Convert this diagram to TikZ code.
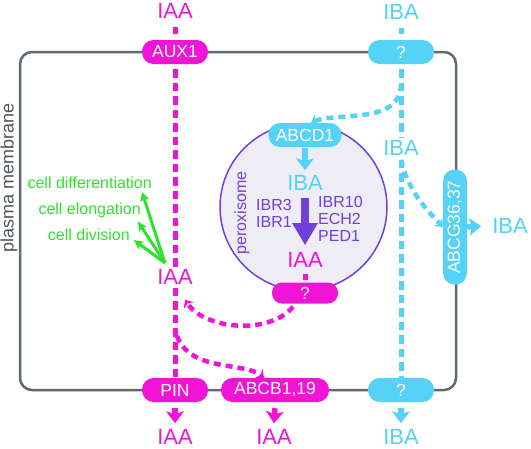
\documentclass[tikz,border=0pt]{standalone}
\usepackage{fontspec}
\setmainfont{Liberation Sans}
\usetikzlibrary{arrows.meta}

\definecolor{iaacol}{RGB}{240,20,215}
\definecolor{ibacol}{RGB}{85,210,245}
\definecolor{peroxcol}{RGB}{112,64,216}
\definecolor{peroxfill}{RGB}{238,237,245}
\definecolor{grncol}{RGB}{45,225,45}
\definecolor{membcol}{RGB}{96,106,112}

\tikzset{
  pill/.style={rounded corners=11.5pt,minimum height=24pt,minimum width=66pt,inner sep=2pt,
    text=white,font=\fontsize{17.5}{18}\selectfont},
  iaapill/.style={pill,fill=iaacol},
  ibapill/.style={pill,fill=ibacol},
  big/.style={inner sep=0pt,font=\fontsize{22}{22}\selectfont},
  small/.style={inner sep=0pt,font=\fontsize{16}{17}\selectfont},
  iaaflow/.style={iaacol,line width=5pt,dash pattern=on 8.5pt off 5pt},
  ibaflow/.style={ibacol,line width=5pt,dash pattern=on 8.5pt off 5pt},
  bendtip/.style={line width=4.5pt,dash pattern=on 7pt off 5pt,-{Stealth[length=7pt,width=12pt,inset=2.5pt]}},
  chev/.style={line width=5.5pt,-{Stealth[length=12pt,width=18pt,inset=3pt,line width=1pt]}},
  spur/.style={grncol,line width=3pt,-{Stealth[length=9pt,width=9pt,inset=2pt]}}
}

\begin{document}
\begin{tikzpicture}[x=1pt,y=-1pt]
  \useasboundingbox (0,0) rectangle (531,448);
  % cell
  \draw[membcol,line width=2.5pt,rounded corners=12pt] (20,52) rectangle (456,390);
  \node[inner sep=0pt,rotate=90,text=membcol!80!black,font=\fontsize{18}{18}\selectfont] (pm) at (9,178) {plasma membrane};
  % peroxisome
  \node[circle,draw=peroxcol,line width=1.5pt,fill=peroxfill,minimum size=167pt] (perox) at (303.5,207) {};
  \node[small,rotate=90,text=peroxcol] (peroxLabel) at (242,213) {peroxisome};

  % transporters
  \node[iaapill] (aux) at (175,52) {AUX1};
  \node[ibapill] (qTop) at (401,52) {?};
  \node[iaapill] (pin) at (175,390) {PIN};
  \node[iaapill,minimum width=108pt] (abcb) at (275,390) {ABCB1,19};
  \node[ibapill] (qBot) at (401,390) {?};
  \node[ibapill,minimum width=115pt,rotate=90] (abcg) at (455,227) {ABCG36,37};
  \node[ibapill,minimum width=73pt] (abcd) at (305,135) {ABCD1};
  \node[iaapill,minimum height=21pt,rounded corners=10pt] (qPer) at (305,293) {?};

  % auxins
  \node[big,text=iaacol] (iaaTop) at (175,11) {IAA};
  \node[big,text=ibacol] (ibaTop) at (401,12) {IBA};
  \node[big,text=iaacol] (iaaMid) at (175,277) {IAA};
  \node[big,text=ibacol] (ibaMid) at (401,148) {IBA};
  \node[big,text=iaacol] (iaaPin) at (175,437) {IAA};
  \node[big,text=iaacol] (iaaAbcb) at (274,437) {IAA};
  \node[big,text=ibacol] (ibaBot) at (401,437) {IBA};
  \node[big,text=ibacol] (ibaRight) at (510,226) {IBA};
  \node[big,text=ibacol] (ibaPer) at (305,183) {IBA};
  \node[big,text=iaacol] (iaaPer) at (305,260) {IAA};
  \node[small,text=peroxcol,align=right,anchor=east] (ibrLeft) at (292,213) {IBR3\\IBR1};
  \node[small,text=peroxcol,align=left,anchor=west] (ibrRight) at (318,218.5) {IBR10\\ECH2\\PED1};

  % responses
  \node[small,text=grncol,anchor=east] (diff) at (152,183) {cell differentiation};
  \node[small,text=grncol,anchor=east] (elong) at (141,210) {cell elongation};
  \node[small,text=grncol,anchor=east] (divi) at (130,235) {cell division};
  \coordinate (fan) at (165,263);
  \draw[spur] (fan) -- ([xshift=-10pt,yshift=-3pt]diff.south east);
  \draw[spur] (fan) -- ([xshift=-3pt,yshift=-4pt]elong.south east);
  \draw[spur] (fan) -- ([xshift=4pt,yshift=1pt]divi.south east);

  % IAA column
  \draw[iaaflow,shorten <=8pt,shorten >=6pt] (iaaTop.south) -- (aux.north);
  \draw[iaaflow,shorten <=5pt] (aux.south) -- (iaaMid.north);
  \draw[iaaflow,shorten <=3pt] (iaaMid.south) -- (pin.north);
  % IBA column
  \draw[ibaflow,shorten <=8pt,shorten >=6pt] (ibaTop.south) -- (qTop.north);
  \draw[ibaflow,shorten <=5pt,shorten >=2pt] (qTop.south) -- (ibaMid.north);
  \draw[ibaflow,shorten <=4pt] (ibaMid.south) -- (qBot.north);

  % efflux
  \draw[chev,iaacol] ([yshift=-6pt]pin.south) -- ([yshift=6pt]iaaPin.north);
  \draw[chev,iaacol] ([yshift=-6pt]abcb.south) -- ([yshift=6pt]iaaAbcb.north);
  \draw[chev,ibacol] ([yshift=-6pt]qBot.south) -- ([yshift=6pt]ibaBot.north);
  \draw[chev,ibacol] (abcg.south) -- ([xshift=-11pt]ibaRight.west);
  \draw[chev,ibacol] ([yshift=-1pt]abcd.south) -- ([yshift=5pt]ibaPer.north);

  % bends
  \draw[ibacol,bendtip] ([yshift=-20pt]qTop.south) .. controls (401,125) and (335,112) .. ([xshift=6pt]abcd.north);
  \draw[ibacol,bendtip] ([yshift=-4pt]ibaMid.south) .. controls (408,190) and (425,208) .. (abcg.north);
  \draw[iaacol,bendtip] ([xshift=-12pt,yshift=-3pt]qPer.south) .. controls (270,335) and (205,330) .. ([xshift=10pt,yshift=-15pt]iaaMid.south);
  \coordinate (branch) at (177,336);
  \draw[iaacol,bendtip] (branch) .. controls (190,372) and (245,362) .. ([xshift=-11pt]abcb.north);

  % conversion
  \draw[peroxcol,line width=8pt,shorten <=7pt,shorten >=7pt,-{Triangle[length=22pt,width=24pt]}] (ibaPer.south) -- (iaaPer.north);
  \draw[iaaflow,shorten <=6pt,shorten >=2pt] (iaaPer.south) -- (qPer.north);
\end{tikzpicture}
\end{document}
